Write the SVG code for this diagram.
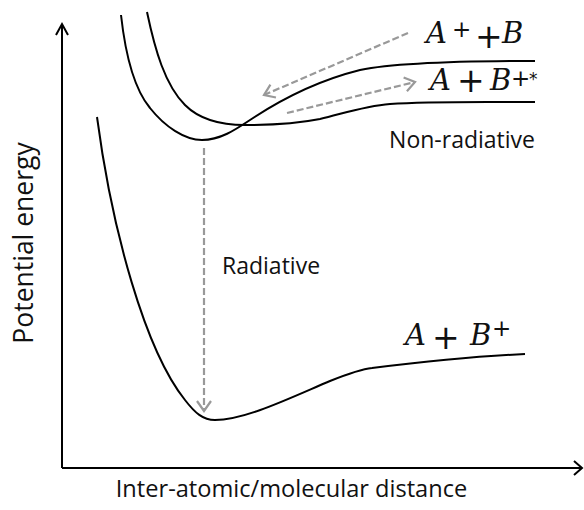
<svg xmlns="http://www.w3.org/2000/svg" width="584" height="510" viewBox="0 0 584 510">
<style>
.axis{fill:none;stroke:#000;stroke-width:2}
.curve{fill:none;stroke:#000;stroke-width:2}
.dash{fill:none;stroke:#999;stroke-width:2.2;stroke-dasharray:7 3}
.lbl{font-family:"Open Sans","Noto Sans",sans-serif;fill:#111}
.m{font-family:"DejaVu Serif","Liberation Serif",serif;fill:#111}
.mi{font-style:italic}
.p{font-family:"DejaVu Sans",sans-serif;font-style:normal}
</style>
<defs>
<marker id="ah" markerUnits="userSpaceOnUse" markerWidth="14" markerHeight="18" viewBox="0 0 14 18" refX="12" refY="9" orient="auto">
<path d="M2,2 L12,9 L2,16" fill="none" stroke="#999" stroke-width="2.2"/>
</marker>
</defs>
<g id="axes">
<path class="axis" d="M62,468 L62,24 M56,35 L62,24 L68,35"/>
<path class="axis" d="M62,468 L582,468 M574,461 L582,468 L574,475"/>
</g>
<g id="curves">
<path id="curve-ground" class="curve" d="M97,117 C112,230 145,350 185,400 C195,413 203,420 215,420 C245,420 290,398 330,381 C350,373 362,369 372,368 C420,362 480,356 525,354"/>
<path id="curve-ionA" class="curve" d="M121,15 C126,60 135,90 150,108 C165,127 185,140 202,140 C220,140 235,130 250,120 C280,100 320,80 360,70 C400,62 480,61 535,61"/>
<path id="curve-excB" class="curve" d="M147,12 C155,50 165,85 185,105 C200,120 220,125 245,125 C275,125 300,123 320,119 C345,113 365,106 390,104 C430,101 490,102 535,102"/>
</g>
<g id="connectors">
<line class="dash" x1="408" y1="33" x2="264" y2="95" marker-end="url(#ah)"/>
<line class="dash" x1="287" y1="113" x2="415" y2="82" marker-end="url(#ah)"/>
<line class="dash" x1="204" y1="148" x2="204" y2="411" marker-end="url(#ah)"/>
</g>
<g id="labels">
<text class="lbl" x="222" y="274" font-size="23">Radiative</text>
<text class="lbl" x="535" y="148" font-size="23" text-anchor="end">Non-radiative</text>
<text class="lbl" x="291.5" y="497" font-size="23.6" text-anchor="middle">Inter-atomic/molecular distance</text>
<text class="lbl" transform="translate(33,243) rotate(-90)" font-size="26.5" text-anchor="middle">Potential energy</text>
</g>
<g id="state-labels">
<text class="m" font-size="29"><tspan class="mi" x="426" y="43">A</tspan><tspan class="p" x="452" y="37" font-size="23">+</tspan><tspan class="p" x="475" y="48" font-size="33">+</tspan><tspan class="mi" x="502" y="43">B</tspan></text>
<text class="m" font-size="29"><tspan class="mi" x="430" y="90">A</tspan><tspan class="p" x="457" y="92" font-size="33">+</tspan><tspan class="mi" x="490" y="90">B</tspan><tspan class="p" x="511" y="86" font-size="23">+</tspan><tspan class="p" x="529" y="85" font-size="17">*</tspan></text>
<text class="m" font-size="29"><tspan class="mi" x="405" y="345">A</tspan><tspan class="p" x="432" y="349" font-size="33">+</tspan><tspan class="mi" x="470" y="345">B</tspan><tspan class="p" x="492" y="336" font-size="23">+</tspan></text>
</g>
</svg>
